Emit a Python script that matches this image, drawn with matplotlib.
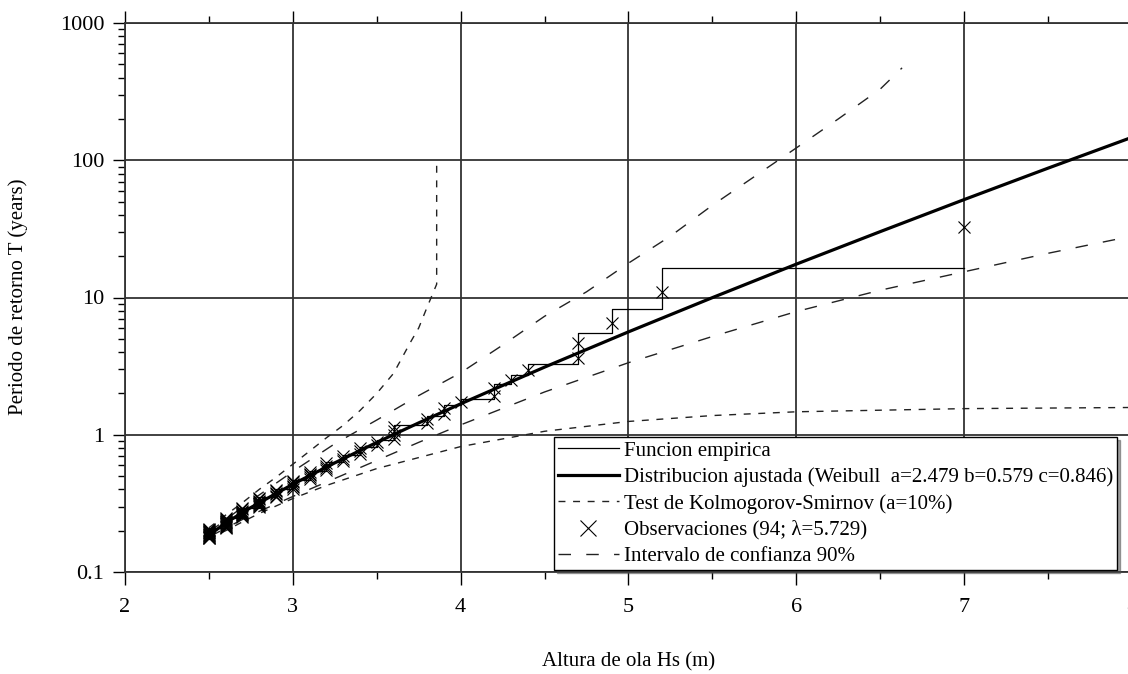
import numpy as np
import matplotlib

matplotlib.use("Agg")
import matplotlib.pyplot as plt
from matplotlib.ticker import LogLocator, FixedLocator, NullFormatter

plt.rcParams["font.family"] = ["Liberation Serif", "DejaVu Serif"]

# observed wave heights (m) and how many storms at each height
obs_hs = [2.5, 2.6, 2.7, 2.8, 2.9, 3.0, 3.1, 3.2, 3.3, 3.4, 3.5, 3.6, 3.8, 3.9,
          4.0, 4.2, 4.3, 4.4, 4.7, 4.9, 5.2, 7.0]
obs_count = [15, 13, 10, 9, 6, 6, 5, 4, 3, 3, 2, 4, 2, 2, 1, 2, 1, 1, 2, 1, 1, 1]
n_obs = 94
lam = 5.729

# fitted Weibull return period
fit_hs = [2.5, 2.6, 2.75, 3.0, 3.25, 3.5, 3.75, 4.0, 4.5, 5.0, 5.5, 6.0, 6.5, 7.0, 7.5, 8.0]
fit_T = [0.185, 0.228, 0.295, 0.436, 0.624, 0.879, 1.22, 1.68, 3.11, 5.62, 9.98,
         17.5, 30.2, 51.7, 87.6, 147.0]

# Kolmogorov-Smirnov band
ks_up_hs = [2.5, 2.6, 2.7, 2.8, 2.9, 3.0, 3.1, 3.2, 3.3, 3.4, 3.5, 3.6, 3.7, 3.75,
            3.8, 3.857, 3.857]
ks_up_T = [0.21, 0.26, 0.32, 0.40, 0.49, 0.61, 0.76, 0.95, 1.17, 1.50, 2.0, 2.8,
           4.7, 6.0, 8.5, 12.5, 100.0]
ks_lo_hs = [2.5, 2.6, 2.7, 2.8, 3.0, 3.2, 3.5, 4.0, 4.5, 5.0, 5.5, 6.0, 7.0, 8.0]
ks_lo_T = [0.175, 0.20, 0.232, 0.267, 0.343, 0.427, 0.567, 0.82, 1.06, 1.25, 1.38,
           1.47, 1.55, 1.58]

# 90% confidence interval
ci_up_hs = [2.5, 2.75, 3.0, 3.25, 3.5, 3.75, 4.0, 4.25, 4.5, 4.75, 5.0, 5.25, 5.5,
            5.75, 6.0, 6.25, 6.5, 6.63]
ci_up_T = [0.195, 0.33, 0.54, 0.86, 1.28, 1.93, 2.83, 4.5, 7.3, 11.0, 17.8, 28.0,
           47.0, 76.0, 123.0, 200.0, 330.0, 471.0]
ci_lo_hs = [2.5, 2.75, 3.0, 3.25, 3.5, 3.75, 4.0, 4.5, 5.0, 5.5, 6.0, 6.5, 7.0, 7.5, 8.0]
ci_lo_T = [0.18, 0.26, 0.355, 0.48, 0.65, 0.88, 1.18, 2.05, 3.35, 5.2, 7.9, 11.3,
           15.4, 21.0, 28.0]

x_ticks = [2, 3, 4, 5, 6, 7, 8]
x_minor = [2.5, 3.5, 4.5, 5.5, 6.5, 7.5]
y_ticks = [0.1, 1, 10, 100, 1000]
y_tick_labels = ["0.1", "1", "10", "100", "1000"]

years = n_obs / lam

# observations: rank from the top, Hazen plotting position
hs_sorted = np.repeat(obs_hs, obs_count)[::-1]
rank = np.arange(1, len(hs_sorted) + 1)
obs_T = years / (rank - 0.5)

# empirical step function: T = years / number of storms above h
counts = np.array(obs_count)
n_above = n_obs - np.cumsum(counts)
step_x = [obs_hs[0]] + list(obs_hs)
step_y = [years / n_obs] + [years / n if n > 0 else years / n_above[-2] for n in n_above]

fig = plt.figure(figsize=(11.28, 6.74), dpi=100)
ax = fig.add_axes([125 / 1128, 102 / 674, (1132 - 125) / 1128, (572 - 23) / 674])

ax.set_yscale("log")
ax.set_xlim(2, 8)
ax.set_ylim(0.1, 1000)

ax.step(step_x, step_y, where="post", color="black", lw=0.9, zorder=3,
        label="Funcion empirica")
ax.plot(fit_hs, fit_T, color="black", lw=2.3, zorder=4,
        label="Distribucion ajustada (Weibull  a=2.479 b=0.579 c=0.846)")
ax.plot(ks_up_hs, ks_up_T, color="#222222", lw=1.0, dashes=(5, 5.5), zorder=3,
        label="Test de Kolmogorov-Smirnov (a=10%)")
ax.plot(ks_lo_hs, ks_lo_T, color="#222222", lw=1.0, dashes=(5, 5.5), zorder=3)
ax.plot(hs_sorted, obs_T, linestyle="none", marker="x", ms=8.5, mew=0.8,
        color="black", zorder=5, label="Observaciones (94; \u03bb=5.729)")
ax.plot(ci_up_hs, ci_up_T, color="#222222", lw=1.0, dashes=(9, 11), zorder=3,
        label="Intervalo de confianza 90%")
ax.plot(ci_lo_hs, ci_lo_T, color="#222222", lw=1.0, dashes=(9, 11), zorder=3)

ax.xaxis.set_major_locator(FixedLocator(x_ticks))
ax.xaxis.set_minor_locator(FixedLocator(x_minor))
ax.yaxis.set_major_locator(FixedLocator(y_ticks))
ax.yaxis.set_minor_locator(LogLocator(base=10, subs=np.arange(2, 10), numticks=20))
ax.yaxis.set_minor_formatter(NullFormatter())
ax.set_yticklabels(y_tick_labels)
ax.set_xticklabels([str(v) for v in x_ticks])

ax.grid(True, which="major", color="#333333", lw=1.3, zorder=1)
ax.spines["right"].set_visible(False)
for side in ["left", "bottom", "top"]:
    ax.spines[side].set_linewidth(1.3)
    ax.spines[side].set_color("#333333")

ax.tick_params(axis="both", which="major", direction="out", length=9, width=1.0,
               labelsize=16, pad=6)
ax.tick_params(axis="both", which="minor", direction="out", length=5, width=1.0)
ax.tick_params(axis="x", which="both", top=True)
ax.tick_params(axis="x", which="major", pad=10)
ax.tick_params(axis="y", which="both", right=False)

fig.text(629 / 1128, 1 - 662 / 674, "Altura de ola Hs (m)", ha="center", va="center",
         fontsize=15)
fig.text(18 / 1128, 1 - 297 / 674, "Periodo de retorno T (years)", ha="center",
         va="center", rotation=90, fontsize=15)

leg = ax.legend(loc="upper left", bbox_to_anchor=(554 / 1128, 1 - 437 / 674),
                bbox_transform=fig.transFigure, fontsize=15, frameon=True,
                fancybox=False, shadow=True, framealpha=1, edgecolor="black",
                borderaxespad=0, borderpad=0.2, handlelength=2.9,
                handletextpad=0.25, labelspacing=0.32, markerscale=1.3)
leg.get_frame().set_linewidth(1.0)

fig.savefig("out.png", dpi=100)
